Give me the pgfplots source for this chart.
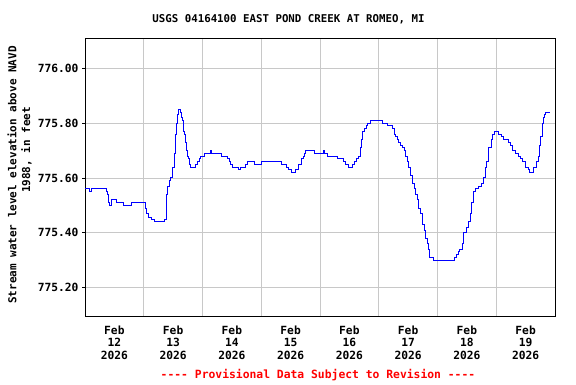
\documentclass[border=0pt]{standalone}
\usepackage{pgfplots}
\pgfplotsset{compat=1.18}
\usepackage{fontspec}
\setmainfont{DejaVu Sans Mono}
\setmonofont{DejaVu Sans Mono}
\definecolor{gridgray}{RGB}{200,200,200}
\begin{document}
\begin{tikzpicture}[x=1bp,y=1bp]
\path[use as bounding box] (0,0) rectangle (576,384);
\begin{axis}[
  at={(85bp,68bp)}, anchor=south west,
  scale only axis, width=470bp, height=277bp,
  xmin=0, xmax=8, ymin=775.096, ymax=776.107,
  axis line style={line width=1bp, black},
  xtick={0.5,1.5,2.5,3.5,4.5,5.5,6.5,7.5},
  xticklabels={{Feb\\12\\2026},{Feb\\13\\2026},{Feb\\14\\2026},{Feb\\15\\2026},{Feb\\16\\2026},{Feb\\17\\2026},{Feb\\18\\2026},{Feb\\19\\2026}},
  xticklabel style={align=center, font=\bfseries\fontsize{11.3}{12.7}\selectfont, yshift=-3bp},
  major x tick style={draw=none},
  minor xtick={1,2,3,4,5,6,7},
  xminorgrids, minor x tick style={draw=none},
  minor grid style={gridgray, line width=0.8bp},
  ytick={775.2,775.4,775.6,775.8,776.0},
  ymajorgrids, major grid style={gridgray, line width=0.8bp},
  ytick pos=left, xtick pos=bottom, tick align=outside,
  major tick length=3bp,
  y tick style={black, line width=0.6bp},
  yticklabel style={font=\bfseries\fontsize{11.3}{13}\selectfont, /pgf/number format/fixed, /pgf/number format/fixed zerofill, /pgf/number format/precision=2, /pgf/number format/1000 sep={}},
  /pgf/number format/assume math mode=true,
  scaled y ticks=false,
  clip=true,
]
\addplot[const plot, blue, line width=0.9bp] table {
0.00 775.56
0.07 775.55
0.11 775.56
0.36 775.55
0.38 775.54
0.40 775.51
0.42 775.50
0.45 775.52
0.54 775.51
0.65 775.50
0.79 775.51
1.03 775.49
1.05 775.47
1.08 775.455
1.13 775.45
1.19 775.44
1.35 775.45
1.39 775.54
1.41 775.57
1.44 775.59
1.46 775.60
1.49 775.64
1.52 775.69
1.54 775.76
1.55 775.80
1.57 775.83
1.59 775.85
1.63 775.84
1.64 775.82
1.66 775.81
1.67 775.77
1.70 775.76
1.71 775.73
1.73 775.70
1.75 775.68
1.76 775.67
1.78 775.65
1.80 775.64
1.88 775.65
1.92 775.66
1.95 775.67
1.97 775.68
2.04 775.69
2.13 775.70
2.15 775.69
2.33 775.68
2.42 775.67
2.46 775.66
2.48 775.65
2.51 775.64
2.62 775.63
2.65 775.64
2.73 775.65
2.76 775.66
2.89 775.65
3.01 775.66
3.34 775.65
3.43 775.64
3.46 775.63
3.51 775.62
3.58 775.63
3.64 775.65
3.68 775.67
3.71 775.68
3.74 775.69
3.76 775.70
3.90 775.69
4.06 775.70
4.07 775.69
4.12 775.68
4.30 775.67
4.40 775.66
4.44 775.65
4.49 775.64
4.56 775.65
4.59 775.66
4.62 775.67
4.65 775.68
4.68 775.71
4.70 775.74
4.73 775.77
4.76 775.78
4.79 775.79
4.81 775.80
4.86 775.81
5.07 775.80
5.14 775.79
5.23 775.78
5.26 775.76
5.29 775.75
5.31 775.74
5.34 775.73
5.37 775.72
5.40 775.71
5.43 775.70
5.46 775.68
5.48 775.66
5.51 775.64
5.54 775.61
5.57 775.58
5.60 775.56
5.63 775.54
5.66 775.52
5.68 775.49
5.71 775.47
5.74 775.43
5.77 775.41
5.80 775.38
5.83 775.36
5.85 775.34
5.87 775.31
5.93 775.30
6.29 775.31
6.33 775.32
6.36 775.33
6.38 775.34
6.42 775.36
6.45 775.40
6.50 775.42
6.53 775.44
6.56 775.47
6.58 775.51
6.61 775.53
6.62 775.55
6.65 775.56
6.70 775.57
6.74 775.58
6.78 775.60
6.81 775.64
6.84 775.66
6.87 775.71
6.91 775.74
6.94 775.76
6.97 775.77
7.04 775.76
7.09 775.75
7.13 775.74
7.21 775.73
7.24 775.72
7.28 775.70
7.32 775.69
7.37 775.68
7.41 775.67
7.45 775.66
7.49 775.64
7.54 775.63
7.56 775.62
7.64 775.64
7.68 775.66
7.71 775.68
7.74 775.72
7.75 775.75
7.78 775.80
7.80 775.82
7.82 775.83
7.84 775.84
7.92 775.84
};
\end{axis}
\node[font=\bfseries\fontsize{10.8}{13}\selectfont] at (288.5,365) {USGS 04164100 EAST POND CREEK AT ROMEO, MI};
\node[font=\bfseries\fontsize{11}{13}\selectfont, rotate=90] at (12,209) {Stream water level elevation above NAVD};
\node[font=\bfseries\fontsize{11}{13}\selectfont, rotate=90] at (26.5,234) {1988, in feet};
\node[font=\bfseries\fontsize{11.4}{13}\selectfont, text=red] at (318,9) {-{}-{}-{}- Provisional Data Subject to Revision -{}-{}-{}-};
\end{tikzpicture}
\end{document}
